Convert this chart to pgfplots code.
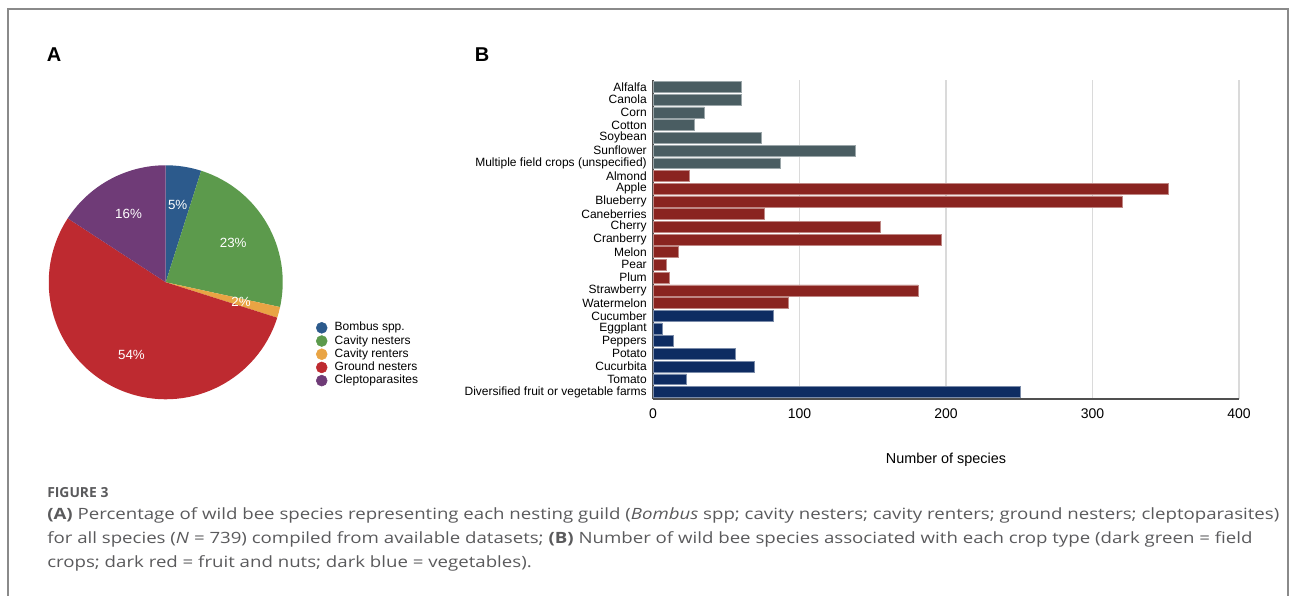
\documentclass[border=0pt]{standalone}
\usepackage{fontspec}
\setmainfont{Liberation Sans}
\newfontfamily\capfont[FakeStretch=1.2]{Open Sans}
\newfontfamily\capfontb{Open Sans}
\usepackage{pgfplots}
\pgfplotsset{compat=1.18}
\definecolor{fieldc}{HTML}{4A5D62}
\definecolor{fruitc}{HTML}{8A2420}
\definecolor{vegc}{HTML}{0E2C62}
\definecolor{gridc}{HTML}{DADADA}
\definecolor{axisc}{HTML}{505050}
\definecolor{framec}{HTML}{8A8A8A}
\definecolor{captc}{HTML}{5A5A5C}
\definecolor{bombus}{HTML}{2C5A8C}
\definecolor{cavn}{HTML}{5C9A4C}
\definecolor{cavr}{HTML}{E9A444}
\definecolor{ground}{HTML}{BE2A30}
\definecolor{clepto}{HTML}{6F3B77}
% pie shares (percent)
\def\vA{4.9}\def\vB{23.5}\def\vC{1.5}\def\vD{54.3}\def\vE{15.8}
\begin{document}
\begin{tikzpicture}[x=0.75pt,y=0.75pt]
\path[use as bounding box] (0,0) rectangle (1293,596);
\draw[framec,line width=1.3pt] (8,0) -- (8,587) -- (1288,587) -- (1288,0);
\node[font=\fontsize{15}{15}\selectfont\bfseries] at (54,541) {A};
\node[font=\fontsize{15}{15}\selectfont\bfseries] at (482,541) {B};
% caption
\node[anchor=base west,inner sep=0pt,text=captc,font=\capfontb\fontsize{10.4}{12}\selectfont\bfseries] at (47,98.3) {FIGURE 3};
\node[anchor=base west,inner sep=0pt,text=captc,font=\capfont\fontsize{11.65}{13}\selectfont] at (47,76.2) {\textbf{(A)} Percentage of wild bee species representing each nesting guild (\textit{Bombus} spp; cavity nesters; cavity renters; ground nesters; cleptoparasites)};
\node[anchor=base west,inner sep=0pt,text=captc,font=\capfont\fontsize{11.65}{13}\selectfont] at (47,52.2) {for all species (\textit{N} = 739) compiled from available datasets; \textbf{(B)} Number of wild bee species associated with each crop type (dark green = field};
\node[anchor=base west,inner sep=0pt,text=captc,font=\capfont\fontsize{11.65}{13}\selectfont] at (47,28.2) {crops; dark red = fruit and nuts; dark blue = vegetables).};

\pgfmathsetmacro\aA{90}
\pgfmathsetmacro\aB{\aA-3.6*\vA}
\pgfmathsetmacro\aC{\aB-3.6*\vB}
\pgfmathsetmacro\aD{\aC-3.6*\vC}
\pgfmathsetmacro\aE{\aD-3.6*\vD}
\pgfmathsetmacro\aF{\aE-3.6*\vE}
% Pie chart
\begin{axis}[at={(124.3pt,235.3pt)}, anchor=center, hide axis,
  x=0.75pt, y=0.75pt, xmin=-120, xmax=120, ymin=-120, ymax=120, clip=false,
  legend cell align=left,
  legend style={at={(axis cs:150,-38.7)}, anchor=north west, draw=none, fill=none,
    font=\fontsize{9}{9}\selectfont, inner sep=0pt, row sep=0pt,
    nodes={inner sep=0.6pt, text height=6.7pt, text depth=2.0pt}},
  ]
  \fill[bombus] (axis cs:0,0) -- (axis cs:{117*cos(\aA)},{117*sin(\aA)}) arc[start angle=\aA, end angle=\aB, radius=87.75pt] -- cycle;
  \fill[cavn] (axis cs:0,0) -- (axis cs:{117*cos(\aB)},{117*sin(\aB)}) arc[start angle=\aB, end angle=\aC, radius=87.75pt] -- cycle;
  \fill[cavr] (axis cs:0,0) -- (axis cs:{117*cos(\aC)},{117*sin(\aC)}) arc[start angle=\aC, end angle=\aD, radius=87.75pt] -- cycle;
  \fill[ground] (axis cs:0,0) -- (axis cs:{117*cos(\aD)},{117*sin(\aD)}) arc[start angle=\aD, end angle=\aE, radius=87.75pt] -- cycle;
  \fill[clepto] (axis cs:0,0) -- (axis cs:{117*cos(\aE)},{117*sin(\aE)}) arc[start angle=\aE, end angle=\aF, radius=87.75pt] -- cycle;
  \node[text=white,font=\fontsize{10}{10}\selectfont] at (axis cs:{78*cos((\aA+\aB)/2)},{78*sin((\aA+\aB)/2)}) {5\%};
  \node[text=white,font=\fontsize{10}{10}\selectfont] at (axis cs:{78*cos((\aB+\aC)/2)},{78*sin((\aB+\aC)/2)}) {23\%};
  \node[text=white,font=\fontsize{10}{10}\selectfont] at (axis cs:{78*cos((\aC+\aD)/2)},{78*sin((\aC+\aD)/2)}) {2\%};
  \node[text=white,font=\fontsize{10}{10}\selectfont] at (axis cs:{80*cos((\aD+\aE)/2)},{80*sin((\aD+\aE)/2)}) {54\%};
  \node[text=white,font=\fontsize{10}{10}\selectfont] at (axis cs:{78*cos((\aE+\aF)/2)},{78*sin((\aE+\aF)/2)}) {16\%};
  \addlegendimage{legend image code/.code={\fill[bombus] (0pt,0pt) circle[radius=4.1pt]; \path[draw=none,fill=none] (-4.1pt,0pt) -- (9.1pt,0pt);}}
  \addlegendentry{Bombus spp.}
  \addlegendimage{legend image code/.code={\fill[cavn] (0pt,0pt) circle[radius=4.1pt]; \path[draw=none,fill=none] (-4.1pt,0pt) -- (9.1pt,0pt);}}
  \addlegendentry{Cavity nesters}
  \addlegendimage{legend image code/.code={\fill[cavr] (0pt,0pt) circle[radius=4.1pt]; \path[draw=none,fill=none] (-4.1pt,0pt) -- (9.1pt,0pt);}}
  \addlegendentry{Cavity renters}
  \addlegendimage{legend image code/.code={\fill[ground] (0pt,0pt) circle[radius=4.1pt]; \path[draw=none,fill=none] (-4.1pt,0pt) -- (9.1pt,0pt);}}
  \addlegendentry{Ground nesters}
  \addlegendimage{legend image code/.code={\fill[clepto] (0pt,0pt) circle[radius=4.1pt]; \path[draw=none,fill=none] (-4.1pt,0pt) -- (9.1pt,0pt);}}
  \addlegendentry{Cleptoparasites}
\end{axis}

% Bar chart
\begin{axis}[at={(489.75pt,147.75pt)}, anchor=south west, scale only axis,
  width=439.5pt, height=239.25pt,
  xmin=0, xmax=400, ymin=-0.55, ymax=24.55,
  axis x line*=bottom, axis y line*=left,
  axis line style={draw=axisc, line width=1.1pt},
  xtick={0,100,200,300,400},
  ytick={0,...,24},
  yticklabels={Diversified fruit or vegetable farms, Tomato, Cucurbita, Potato, Peppers, Eggplant, Cucumber, Watermelon, Strawberry, Plum, Pear, Melon, Cranberry, Cherry, Caneberries, Blueberry, Apple, Almond, Multiple field crops (unspecified), Sunflower, Soybean, Cotton, Corn, Canola, Alfalfa},
  major tick length=0pt,
  xmajorgrids, grid style={draw=gridc, line width=0.8pt},
  /pgf/number format/assume math mode=true,
  yticklabel style={font=\fontsize{9}{9}\selectfont, inner sep=0pt, xshift=-4.5pt},
  xticklabel style={font=\fontsize{10.5}{10.5}\selectfont, inner sep=0pt, yshift=-7pt},
  xlabel={Number of species},
  xlabel style={font=\fontsize{10.8}{10.8}\selectfont, at={(axis description cs:0.5,0)}, anchor=center, yshift=-45.5pt},
  xbar, bar width=0.86, bar shift=0pt,
  ]
  \addplot[fill=fieldc, draw=fieldc!55!white, line width=0.4pt] coordinates {
    (60,24) (60,23) (35,22) (28,21) (74,20) (138,19) (87,18)};
  \addplot[fill=fruitc, draw=fruitc!55!white, line width=0.4pt] coordinates {
    (25,17) (352,16) (320,15) (76,14) (155,13) (197,12) (17,11) (9,10) (11,9) (181,8) (92,7)};
  \addplot[fill=vegc, draw=vegc!55!white, line width=0.4pt] coordinates {
    (82,6) (6,5) (14,4) (56,3) (69,2) (23,1) (251,0)};
\end{axis}
\end{tikzpicture}
\end{document}
